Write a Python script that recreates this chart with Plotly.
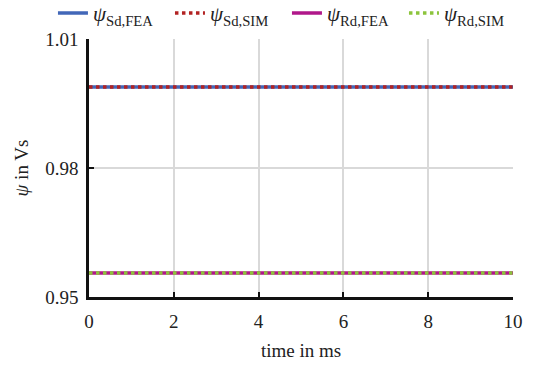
import plotly.graph_objects as go

time_ms = [0, 0.5, 1, 1.5, 2, 2.5, 3, 3.5, 4, 4.5, 5, 5.5, 6, 6.5, 7, 7.5, 8, 8.5, 9, 9.5, 10]
psi_sd_fea = [0.99884, 0.99882, 0.99881, 0.99884, 0.99890, 0.99888, 0.99885, 0.99884, 0.99884, 0.99885, 0.99886, 0.99890,
              0.99888, 0.99884, 0.99883, 0.99884, 0.99882, 0.99883, 0.99888, 0.99886, 0.99884]
psi_sd_sim = [0.99886, 0.99885, 0.99884, 0.99886, 0.99891, 0.99889, 0.99886, 0.99885, 0.99886, 0.99886, 0.99887, 0.99891,
              0.99889, 0.99886, 0.99885, 0.99885, 0.99884, 0.99885, 0.99889, 0.99887, 0.99886]
psi_rd_fea = [0.95558, 0.95560, 0.95557, 0.95555, 0.95556, 0.95558, 0.95557, 0.95555, 0.95557, 0.95558, 0.95556, 0.95557,
              0.95559, 0.95557, 0.95556, 0.95558, 0.95560, 0.95557, 0.95555, 0.95557, 0.95558]
psi_rd_sim = [0.95558, 0.95559, 0.95557, 0.95556, 0.95556, 0.95558, 0.95557, 0.95556, 0.95557, 0.95558, 0.95557, 0.95557,
              0.95558, 0.95557, 0.95557, 0.95558, 0.95559, 0.95557, 0.95556, 0.95557, 0.95558]

x_ticks = [0, 2, 4, 6, 8, 10]
y_ticks = [0.95, 0.98, 1.01]
y_tick_labels = ["0.95", "0.98", "1.01"]

FONT = "'Liberation Serif', 'Times New Roman', serif"

fig = go.Figure()
fig.add_trace(go.Scatter(x=time_ms, y=psi_sd_fea, mode="lines", name="<i>ψ</i><sub>Sd,FEA</sub>",
                         line=dict(color="#4267b8", width=3.5)))
fig.add_trace(go.Scatter(x=time_ms, y=psi_sd_sim, mode="lines", name="<i>ψ</i><sub>Sd,SIM</sub>",
                         line=dict(color="#b22222", width=3.5, dash="dot")))
fig.add_trace(go.Scatter(x=time_ms, y=psi_rd_fea, mode="lines", name="<i>ψ</i><sub>Rd,FEA</sub>",
                         line=dict(color="#b0178a", width=3.5)))
fig.add_trace(go.Scatter(x=time_ms, y=psi_rd_sim, mode="lines", name="<i>ψ</i><sub>Rd,SIM</sub>",
                         line=dict(color="#8cc43c", width=3.5, dash="dot")))

fig.update_layout(
    width=544, height=365,
    margin=dict(l=89, r=31, t=39, b=68, autoexpand=False),
    paper_bgcolor="white", plot_bgcolor="white",
    font=dict(family=FONT, size=19, color="#222"),
    showlegend=True,
    legend=dict(orientation="h", x=-0.085, xanchor="left", y=1.02, yanchor="bottom",
                font=dict(family=FONT, size=21), bgcolor="rgba(0,0,0,0)",
                itemwidth=30, tracegroupgap=0, entrywidth=72, entrywidthmode="pixels"),
    xaxis=dict(range=[0, 10], tickvals=x_ticks, showgrid=True, gridcolor="#d9d9d9", gridwidth=1.5,
               showline=True, linecolor="#111", linewidth=2.5, ticks="inside", ticklen=5,
               tickcolor="#111", tickwidth=2, zeroline=False, ticklabelstandoff=5,
               title=dict(text="time in ms", font=dict(family=FONT, size=19), standoff=14),
               tickfont=dict(family=FONT, size=19)),
    yaxis=dict(range=[0.95, 1.01], tickvals=y_ticks, ticktext=y_tick_labels, showgrid=True,
               gridcolor="#d9d9d9", gridwidth=1.5,
               showline=True, linecolor="#111", linewidth=2.5, ticks="inside", ticklen=5,
               tickcolor="#111", tickwidth=2, zeroline=False, ticklabelstandoff=4,
               title=dict(text="<i>ψ</i> in Vs", font=dict(family=FONT, size=19), standoff=12),
               tickfont=dict(family=FONT, size=19)),
)

fig.write_html("out.html")
